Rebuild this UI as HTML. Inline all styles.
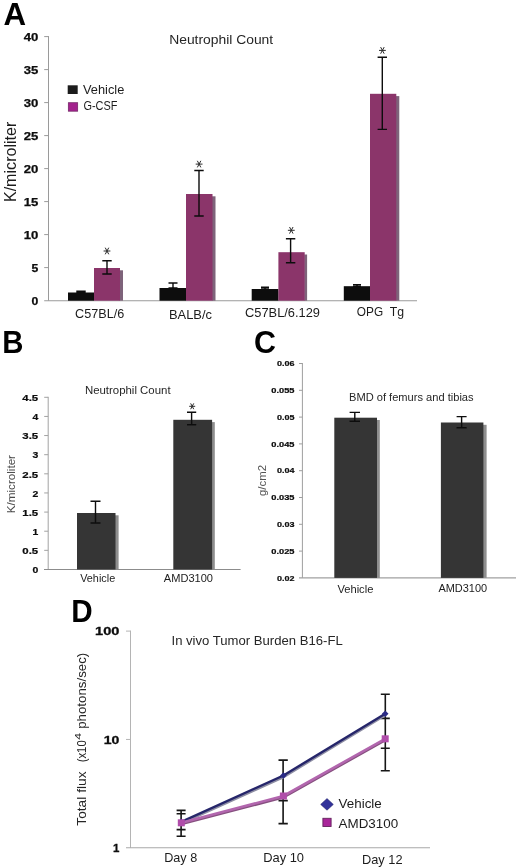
<!DOCTYPE html>
<html><head><meta charset="utf-8"><title>Figure</title>
<style>
html,body{margin:0;padding:0;background:#fff;}
body{width:520px;height:867px;overflow:hidden;font-family:"Liberation Sans",sans-serif;}
svg{display:block;}
svg text{font-family:"Liberation Sans",sans-serif;}
</style></head>
<body>
<svg width="520" height="867" viewBox="0 0 520 867">
<defs><filter id="soft" x="0" y="0" width="520" height="867" filterUnits="userSpaceOnUse"><feGaussianBlur stdDeviation="0.38"/></filter></defs>
<rect width="520" height="867" fill="#fff"/>
<g filter="url(#soft)">
<rect width="520" height="867" fill="#fff"/>
<text x="3.6" y="25.2" font-size="31" text-anchor="start" font-weight="bold" fill="#000" textLength="22.6" lengthAdjust="spacingAndGlyphs">A</text>
<path d="M48.5 36.1V300.7" stroke="#9a9a9a" stroke-width="1" fill="none"/>
<path d="M44.2 300.7H417" stroke="#9a9a9a" stroke-width="1.1" fill="none"/>
<path d="M44.2 36.6H48.5" stroke="#9a9a9a" stroke-width="1"/>
<path d="M44.2 69.6H48.5" stroke="#9a9a9a" stroke-width="1"/>
<path d="M44.2 102.6H48.5" stroke="#9a9a9a" stroke-width="1"/>
<path d="M44.2 135.6H48.5" stroke="#9a9a9a" stroke-width="1"/>
<path d="M44.2 168.6H48.5" stroke="#9a9a9a" stroke-width="1"/>
<path d="M44.2 201.6H48.5" stroke="#9a9a9a" stroke-width="1"/>
<path d="M44.2 234.6H48.5" stroke="#9a9a9a" stroke-width="1"/>
<path d="M44.2 267.6H48.5" stroke="#9a9a9a" stroke-width="1"/>
<text x="38.3" y="40.7" font-size="11.2" text-anchor="end" font-weight="bold" fill="#0a0a0a" textLength="14.6" lengthAdjust="spacingAndGlyphs" stroke="#0a0a0a" stroke-width="0.25">40</text>
<text x="38.3" y="73.7" font-size="11.2" text-anchor="end" font-weight="bold" fill="#0a0a0a" textLength="14.6" lengthAdjust="spacingAndGlyphs" stroke="#0a0a0a" stroke-width="0.25">35</text>
<text x="38.3" y="106.7" font-size="11.2" text-anchor="end" font-weight="bold" fill="#0a0a0a" textLength="14.6" lengthAdjust="spacingAndGlyphs" stroke="#0a0a0a" stroke-width="0.25">30</text>
<text x="38.3" y="139.7" font-size="11.2" text-anchor="end" font-weight="bold" fill="#0a0a0a" textLength="14.6" lengthAdjust="spacingAndGlyphs" stroke="#0a0a0a" stroke-width="0.25">25</text>
<text x="38.3" y="172.7" font-size="11.2" text-anchor="end" font-weight="bold" fill="#0a0a0a" textLength="14.6" lengthAdjust="spacingAndGlyphs" stroke="#0a0a0a" stroke-width="0.25">20</text>
<text x="38.3" y="205.7" font-size="11.2" text-anchor="end" font-weight="bold" fill="#0a0a0a" textLength="14.6" lengthAdjust="spacingAndGlyphs" stroke="#0a0a0a" stroke-width="0.25">15</text>
<text x="38.3" y="238.7" font-size="11.2" text-anchor="end" font-weight="bold" fill="#0a0a0a" textLength="14.6" lengthAdjust="spacingAndGlyphs" stroke="#0a0a0a" stroke-width="0.25">10</text>
<text x="38.3" y="271.7" font-size="11.2" text-anchor="end" font-weight="bold" fill="#0a0a0a" textLength="6.8" lengthAdjust="spacingAndGlyphs" stroke="#0a0a0a" stroke-width="0.25">5</text>
<text x="38.3" y="304.7" font-size="11.2" text-anchor="end" font-weight="bold" fill="#0a0a0a" textLength="6.8" lengthAdjust="spacingAndGlyphs" stroke="#0a0a0a" stroke-width="0.25">0</text>
<text transform="translate(16.4 161.85) rotate(-90)" font-size="16.2" text-anchor="middle" fill="#1c1c1c" textLength="80.5" lengthAdjust="spacingAndGlyphs">K/microliter</text>
<text x="169.2" y="43.7" font-size="13" text-anchor="start" fill="#262626" textLength="104" lengthAdjust="spacingAndGlyphs">Neutrophil Count</text>
<rect x="67.7" y="85.3" width="10" height="8.7" fill="#1f1f1f"/>
<rect x="68.3" y="102.7" width="9.4" height="8.5" fill="#a3218d" stroke="#6e2462" stroke-width="0.7"/>
<text x="83" y="93.8" font-size="12.3" text-anchor="start" fill="#1e1e1e" textLength="41.3" lengthAdjust="spacingAndGlyphs">Vehicle</text>
<text x="83.4" y="110.3" font-size="12.3" text-anchor="start" fill="#1e1e1e" textLength="34" lengthAdjust="spacingAndGlyphs">G-CSF</text>
<rect x="93.5" y="294.8" width="0.5" height="5.899999999999989" fill="#8e8e8e"/><rect x="68" y="292.5" width="26" height="8.199999999999989" fill="#0a0a0a"/>
<rect x="119.5" y="270.3" width="3.5" height="30.399999999999988" fill="#7e637a"/><rect x="94" y="268" width="26" height="32.69999999999999" fill="#8b356b"/>
<rect x="185.5" y="290.3" width="0.5" height="10.399999999999988" fill="#8e8e8e"/><rect x="159.5" y="288" width="26.5" height="12.699999999999989" fill="#0a0a0a"/>
<rect x="212.0" y="196.3" width="3.5" height="104.39999999999999" fill="#7e637a"/><rect x="186" y="194" width="26.5" height="106.69999999999999" fill="#8b356b"/>
<rect x="277.9" y="291.3" width="0.5" height="9.399999999999988" fill="#8e8e8e"/><rect x="251.7" y="289" width="26.69999999999999" height="11.699999999999989" fill="#0a0a0a"/>
<rect x="304.2" y="254.5" width="2.9" height="46.2" fill="#7e637a"/><rect x="278.4" y="252.2" width="26.30000000000001" height="48.5" fill="#8b356b"/>
<rect x="369.5" y="288.5" width="0.5" height="12.2" fill="#8e8e8e"/><rect x="343.8" y="286.2" width="26.19999999999999" height="14.5" fill="#0a0a0a"/>
<rect x="395.8" y="96.1" width="3.5" height="204.59999999999997" fill="#7e637a"/><rect x="370" y="93.8" width="26.30000000000001" height="206.89999999999998" fill="#8b356b"/>
<path d="M81 291.2V292.5M76.3 291.2H85.7M76.3 292.5H85.7" stroke="#0c0c0c" stroke-width="1.4" fill="none"/>
<path d="M107 260.8V274M102.3 260.8H111.7M102.3 274H111.7" stroke="#0c0c0c" stroke-width="1.4" fill="none"/>
<path d="M173 283V288M168.5 283H177.5M168.5 288H177.5" stroke="#0c0c0c" stroke-width="1.4" fill="none"/>
<path d="M199 170.5V216M194.3 170.5H203.7M194.3 216H203.7" stroke="#0c0c0c" stroke-width="1.4" fill="none"/>
<path d="M265 287.3V289M261 287.3H269M261 289H269" stroke="#0c0c0c" stroke-width="1.4" fill="none"/>
<path d="M290.6 238.7V262.8M285.90000000000003 238.7H295.3M285.90000000000003 262.8H295.3" stroke="#0c0c0c" stroke-width="1.4" fill="none"/>
<path d="M357 284.6V286.2M353 284.6H361M353 286.2H361" stroke="#0c0c0c" stroke-width="1.4" fill="none"/>
<path d="M382.3 57.3V129.4M377.6 57.3H387.0M377.6 129.4H387.0" stroke="#0c0c0c" stroke-width="1.4" fill="none"/>
<path d="M103.60 251.00L110.40 251.00M105.24 247.70L108.76 254.30M108.76 247.70L105.24 254.30" stroke="#2a2a2a" stroke-width="1.0" fill="none"/>
<path d="M195.70 164.10L202.50 164.10M197.34 160.80L200.86 167.40M200.86 160.80L197.34 167.40" stroke="#2a2a2a" stroke-width="1.0" fill="none"/>
<path d="M287.90 230.30L294.70 230.30M289.54 227.00L293.06 233.60M293.06 227.00L289.54 233.60" stroke="#2a2a2a" stroke-width="1.0" fill="none"/>
<path d="M379.00 50.40L385.80 50.40M380.64 47.10L384.16 53.70M384.16 47.10L380.64 53.70" stroke="#2a2a2a" stroke-width="1.0" fill="none"/>
<text x="75.1" y="317.9" font-size="12.3" text-anchor="start" fill="#1c1c1c" textLength="49.1" lengthAdjust="spacingAndGlyphs">C57BL/6</text>
<text x="169" y="318.6" font-size="12.3" text-anchor="start" fill="#1c1c1c" textLength="43" lengthAdjust="spacingAndGlyphs">BALB/c</text>
<text x="245" y="317.2" font-size="12.3" text-anchor="start" fill="#1c1c1c" textLength="75" lengthAdjust="spacingAndGlyphs">C57BL/6.129</text>
<text x="356.8" y="316.4" font-size="12.3" text-anchor="start" fill="#1c1c1c" textLength="26.3" lengthAdjust="spacingAndGlyphs">OPG</text>
<text x="389.7" y="316.4" font-size="12.3" text-anchor="start" fill="#1c1c1c" textLength="14.3" lengthAdjust="spacingAndGlyphs">Tg</text>
<text x="2.2" y="352.8" font-size="31.2" text-anchor="start" font-weight="bold" fill="#000" textLength="21.2" lengthAdjust="spacingAndGlyphs">B</text>
<path d="M48.2 396.8V569.5" stroke="#a2a2a2" stroke-width="1" fill="none"/>
<path d="M44 569.5H240.6" stroke="#8c8c8c" stroke-width="1.1" fill="none"/>
<path d="M44.2 397.30H48.2" stroke="#a2a2a2" stroke-width="1"/>
<text x="38.2" y="401.0" font-size="9.3" text-anchor="end" font-weight="bold" fill="#0a0a0a" textLength="15.9" lengthAdjust="spacingAndGlyphs" stroke="#0a0a0a" stroke-width="0.2">4.5</text>
<path d="M44.2 416.43H48.2" stroke="#a2a2a2" stroke-width="1"/>
<text x="38.2" y="420.13" font-size="9.3" text-anchor="end" font-weight="bold" fill="#0a0a0a" textLength="5.8" lengthAdjust="spacingAndGlyphs" stroke="#0a0a0a" stroke-width="0.2">4</text>
<path d="M44.2 435.56H48.2" stroke="#a2a2a2" stroke-width="1"/>
<text x="38.2" y="439.26" font-size="9.3" text-anchor="end" font-weight="bold" fill="#0a0a0a" textLength="15.9" lengthAdjust="spacingAndGlyphs" stroke="#0a0a0a" stroke-width="0.2">3.5</text>
<path d="M44.2 454.69H48.2" stroke="#a2a2a2" stroke-width="1"/>
<text x="38.2" y="458.39" font-size="9.3" text-anchor="end" font-weight="bold" fill="#0a0a0a" textLength="5.8" lengthAdjust="spacingAndGlyphs" stroke="#0a0a0a" stroke-width="0.2">3</text>
<path d="M44.2 473.82H48.2" stroke="#a2a2a2" stroke-width="1"/>
<text x="38.2" y="477.52" font-size="9.3" text-anchor="end" font-weight="bold" fill="#0a0a0a" textLength="15.9" lengthAdjust="spacingAndGlyphs" stroke="#0a0a0a" stroke-width="0.2">2.5</text>
<path d="M44.2 492.95H48.2" stroke="#a2a2a2" stroke-width="1"/>
<text x="38.2" y="496.65" font-size="9.3" text-anchor="end" font-weight="bold" fill="#0a0a0a" textLength="5.8" lengthAdjust="spacingAndGlyphs" stroke="#0a0a0a" stroke-width="0.2">2</text>
<path d="M44.2 512.08H48.2" stroke="#a2a2a2" stroke-width="1"/>
<text x="38.2" y="515.78" font-size="9.3" text-anchor="end" font-weight="bold" fill="#0a0a0a" textLength="15.9" lengthAdjust="spacingAndGlyphs" stroke="#0a0a0a" stroke-width="0.2">1.5</text>
<path d="M44.2 531.21H48.2" stroke="#a2a2a2" stroke-width="1"/>
<text x="38.2" y="534.91" font-size="9.3" text-anchor="end" font-weight="bold" fill="#0a0a0a" textLength="5.8" lengthAdjust="spacingAndGlyphs" stroke="#0a0a0a" stroke-width="0.2">1</text>
<path d="M44.2 550.34H48.2" stroke="#a2a2a2" stroke-width="1"/>
<text x="38.2" y="554.04" font-size="9.3" text-anchor="end" font-weight="bold" fill="#0a0a0a" textLength="15.9" lengthAdjust="spacingAndGlyphs" stroke="#0a0a0a" stroke-width="0.2">0.5</text>
<text x="38.2" y="573.17" font-size="9.3" text-anchor="end" font-weight="bold" fill="#0a0a0a" textLength="5.8" lengthAdjust="spacingAndGlyphs" stroke="#0a0a0a" stroke-width="0.2">0</text>
<text x="84.9" y="393.8" font-size="10.4" text-anchor="start" fill="#262626" textLength="85.7" lengthAdjust="spacingAndGlyphs">Neutrophil Count</text>
<text transform="translate(15.3 484.1) rotate(-90)" font-size="11.2" text-anchor="middle" fill="#4a4a4a" textLength="58.2" lengthAdjust="spacingAndGlyphs">K/microliter</text>
<rect x="115.0" y="515.3" width="3.6" height="54.2" fill="#8e8e8e"/><rect x="77" y="513" width="38.5" height="56.5" fill="#353535"/>
<rect x="211.6" y="422.1" width="3.2" height="147.39999999999998" fill="#8e8e8e"/><rect x="173.3" y="419.8" width="38.79999999999998" height="149.7" fill="#353535"/>
<path d="M95.5 501.3V523M90.5 501.3H100.5M90.5 523H100.5" stroke="#0c0c0c" stroke-width="1.4" fill="none"/>
<path d="M191.6 412.3V424.7M187.0 412.3H196.2M187.0 424.7H196.2" stroke="#0c0c0c" stroke-width="1.4" fill="none"/>
<path d="M189.20 406.30L195.20 406.30M190.65 403.39L193.75 409.21M193.75 403.39L190.65 409.21" stroke="#2a2a2a" stroke-width="1.0" fill="none"/>
<text x="80.2" y="581.8" font-size="10.2" text-anchor="start" fill="#1c1c1c" textLength="35" lengthAdjust="spacingAndGlyphs">Vehicle</text>
<text x="163.8" y="581.8" font-size="10.2" text-anchor="start" fill="#1c1c1c" textLength="49.2" lengthAdjust="spacingAndGlyphs">AMD3100</text>
<text x="254" y="352.5" font-size="30.6" text-anchor="start" font-weight="bold" fill="#000" textLength="22" lengthAdjust="spacingAndGlyphs">C</text>
<path d="M302.4 363V577.9" stroke="#9e9e9e" stroke-width="1" fill="none"/>
<path d="M299 577.9H516" stroke="#a0a0a0" stroke-width="1.2" fill="none"/>
<path d="M299 363.50H302.4" stroke="#9e9e9e" stroke-width="1"/>
<text x="294.5" y="366.15" font-size="7.4" text-anchor="end" font-weight="bold" fill="#0a0a0a" textLength="17.5" lengthAdjust="spacingAndGlyphs" stroke="#0a0a0a" stroke-width="0.2">0.06</text>
<path d="M299 390.30H302.4" stroke="#9e9e9e" stroke-width="1"/>
<text x="294.5" y="392.95" font-size="7.4" text-anchor="end" font-weight="bold" fill="#0a0a0a" textLength="23.2" lengthAdjust="spacingAndGlyphs" stroke="#0a0a0a" stroke-width="0.2">0.055</text>
<path d="M299 417.10H302.4" stroke="#9e9e9e" stroke-width="1"/>
<text x="294.5" y="419.75" font-size="7.4" text-anchor="end" font-weight="bold" fill="#0a0a0a" textLength="17.5" lengthAdjust="spacingAndGlyphs" stroke="#0a0a0a" stroke-width="0.2">0.05</text>
<path d="M299 443.90H302.4" stroke="#9e9e9e" stroke-width="1"/>
<text x="294.5" y="446.55" font-size="7.4" text-anchor="end" font-weight="bold" fill="#0a0a0a" textLength="23.2" lengthAdjust="spacingAndGlyphs" stroke="#0a0a0a" stroke-width="0.2">0.045</text>
<path d="M299 470.70H302.4" stroke="#9e9e9e" stroke-width="1"/>
<text x="294.5" y="473.35" font-size="7.4" text-anchor="end" font-weight="bold" fill="#0a0a0a" textLength="17.5" lengthAdjust="spacingAndGlyphs" stroke="#0a0a0a" stroke-width="0.2">0.04</text>
<path d="M299 497.50H302.4" stroke="#9e9e9e" stroke-width="1"/>
<text x="294.5" y="500.15" font-size="7.4" text-anchor="end" font-weight="bold" fill="#0a0a0a" textLength="23.2" lengthAdjust="spacingAndGlyphs" stroke="#0a0a0a" stroke-width="0.2">0.035</text>
<path d="M299 524.30H302.4" stroke="#9e9e9e" stroke-width="1"/>
<text x="294.5" y="526.95" font-size="7.4" text-anchor="end" font-weight="bold" fill="#0a0a0a" textLength="17.5" lengthAdjust="spacingAndGlyphs" stroke="#0a0a0a" stroke-width="0.2">0.03</text>
<path d="M299 551.10H302.4" stroke="#9e9e9e" stroke-width="1"/>
<text x="294.5" y="553.75" font-size="7.4" text-anchor="end" font-weight="bold" fill="#0a0a0a" textLength="23.2" lengthAdjust="spacingAndGlyphs" stroke="#0a0a0a" stroke-width="0.2">0.025</text>
<text x="294.5" y="580.55" font-size="7.4" text-anchor="end" font-weight="bold" fill="#0a0a0a" textLength="17.5" lengthAdjust="spacingAndGlyphs" stroke="#0a0a0a" stroke-width="0.2">0.02</text>
<text x="349" y="400.9" font-size="11" text-anchor="start" fill="#262626" textLength="124.6" lengthAdjust="spacingAndGlyphs">BMD of femurs and tibias</text>
<text transform="translate(265.5 480.5) rotate(-90)" font-size="11" text-anchor="middle" fill="#555" textLength="31" lengthAdjust="spacingAndGlyphs">g/cm2</text>
<rect x="376.5" y="420.0" width="3.3" height="157.89999999999998" fill="#8e8e8e"/><rect x="334.3" y="417.7" width="42.69999999999999" height="160.2" fill="#353535"/>
<rect x="482.9" y="424.8" width="3.7" height="153.09999999999997" fill="#8e8e8e"/><rect x="440.9" y="422.5" width="42.5" height="155.39999999999998" fill="#353535"/>
<path d="M354.8 412.4V421.2M349.6 412.4H360.0M349.6 421.2H360.0" stroke="#0c0c0c" stroke-width="1.4" fill="none"/>
<path d="M461.6 416.6V427.7M456.6 416.6H466.6M456.6 427.7H466.6" stroke="#0c0c0c" stroke-width="1.4" fill="none"/>
<text x="337.4" y="592.8" font-size="10.5" text-anchor="start" fill="#1c1c1c" textLength="36" lengthAdjust="spacingAndGlyphs">Vehicle</text>
<text x="438.4" y="592.2" font-size="10.5" text-anchor="start" fill="#1c1c1c" textLength="48.8" lengthAdjust="spacingAndGlyphs">AMD3100</text>
<text x="71.2" y="621.8" font-size="31.2" text-anchor="start" font-weight="bold" fill="#000" textLength="21.4" lengthAdjust="spacingAndGlyphs">D</text>
<path d="M130.5 630.6V847.8" stroke="#b4b4b4" stroke-width="1" fill="none"/>
<path d="M126 847.8H430" stroke="#a8a8a8" stroke-width="1.1" fill="none"/>
<path d="M126 631.1H130.5" stroke="#b4b4b4" stroke-width="1"/>
<text x="119.4" y="635.4" font-size="11.5" text-anchor="end" font-weight="bold" fill="#0a0a0a" textLength="24.3" lengthAdjust="spacingAndGlyphs" stroke="#0a0a0a" stroke-width="0.3">100</text>
<path d="M126 739.45H130.5" stroke="#b4b4b4" stroke-width="1"/>
<text x="119.4" y="743.75" font-size="11.5" text-anchor="end" font-weight="bold" fill="#0a0a0a" textLength="15.6" lengthAdjust="spacingAndGlyphs" stroke="#0a0a0a" stroke-width="0.3">10</text>
<text x="119.4" y="852.1" font-size="11.5" text-anchor="end" font-weight="bold" fill="#0a0a0a" textLength="6.4" lengthAdjust="spacingAndGlyphs" stroke="#0a0a0a" stroke-width="0.3">1</text>
<text transform="translate(86.2 825.7) rotate(-90)" font-size="12.8" fill="#262626" textLength="54.2" lengthAdjust="spacingAndGlyphs">Total flux</text>
<text transform="translate(86.2 762.3) rotate(-90)" font-size="12.8" fill="#262626" textLength="22" lengthAdjust="spacingAndGlyphs">(x10</text>
<text transform="translate(81.2 739.8) rotate(-90)" font-size="9.6" fill="#262626" textLength="6.8" lengthAdjust="spacingAndGlyphs">4</text>
<text transform="translate(86.2 728.8) rotate(-90)" font-size="12.8" fill="#262626" textLength="76.1" lengthAdjust="spacingAndGlyphs">photons/sec)</text>
<text x="171.5" y="645.3" font-size="13" text-anchor="start" fill="#262626" textLength="171.2" lengthAdjust="spacingAndGlyphs">In vivo Tumor Burden B16-FL</text>
<path d="M181.1 810.4V836.3M176.6 810.4h9M176.6 813.8h9M176.6 829.6h9M176.6 836.3h9" stroke="#161616" stroke-width="1.6" fill="none"/>
<path d="M283.1 760.1V823.6M278.5 760.1h9.3M278.5 800.6h9.3M278.5 823.6h9.3" stroke="#161616" stroke-width="1.6" fill="none"/>
<path d="M385.3 694.2V770.8M380.8 694.2h9M380.8 718.4h9M380.8 748.3h9M380.8 770.8h9" stroke="#161616" stroke-width="1.6" fill="none"/>
<polyline points="181.3,823.4 283.4,777.1 385.2,715.3000000000001" stroke="#8d8da3" stroke-width="2.4" fill="none"/>
<polyline points="181.3,821.8 283.4,775.5 385.2,713.7" stroke="#25256b" stroke-width="2.4" fill="none"/>
<polyline points="181.3,824.0999999999999 283.4,797.3 385.2,740.0999999999999" stroke="#86507f" stroke-width="2.6" fill="none"/>
<polyline points="181.3,822.8 283.4,796 385.2,738.8" stroke="#b266ae" stroke-width="2.6" fill="none"/>
<path d="M181.3 818.5L184.60000000000002 821.8L181.3 825.0999999999999L178.0 821.8Z" fill="#2a2a86"/>
<path d="M283.4 772.2L286.7 775.5L283.4 778.8L280.09999999999997 775.5Z" fill="#2a2a86"/>
<path d="M385.2 710.4000000000001L388.5 713.7L385.2 717.0L381.9 713.7Z" fill="#2a2a86"/>
<rect x="177.8" y="819.3" width="7" height="7" fill="#b04eaa"/>
<rect x="279.9" y="792.5" width="7" height="7" fill="#b04eaa"/>
<rect x="381.7" y="735.3" width="7" height="7" fill="#b04eaa"/>
<path d="M327 798.6L333.3 804.4L327 810.2L320.7 804.4Z" fill="#31319a" stroke="#26266e" stroke-width="0.6"/>
<rect x="322.9" y="818.3" width="8.2" height="8.2" fill="#a9259a" stroke="#63245c" stroke-width="0.9"/>
<text x="338.6" y="808" font-size="12.6" text-anchor="start" fill="#1c1c1c" textLength="43.2" lengthAdjust="spacingAndGlyphs">Vehicle</text>
<text x="338.6" y="828.2" font-size="12.6" text-anchor="start" fill="#1c1c1c" textLength="59.6" lengthAdjust="spacingAndGlyphs">AMD3100</text>
<text x="164.2" y="861.8" font-size="12.2" text-anchor="start" fill="#1c1c1c" textLength="33" lengthAdjust="spacingAndGlyphs">Day 8</text>
<text x="263.2" y="861.8" font-size="12.2" text-anchor="start" fill="#1c1c1c" textLength="40.8" lengthAdjust="spacingAndGlyphs">Day 10</text>
<text x="362" y="863.6" font-size="12.2" text-anchor="start" fill="#1c1c1c" textLength="40.5" lengthAdjust="spacingAndGlyphs">Day 12</text>
</g>
</svg>
</body></html>
